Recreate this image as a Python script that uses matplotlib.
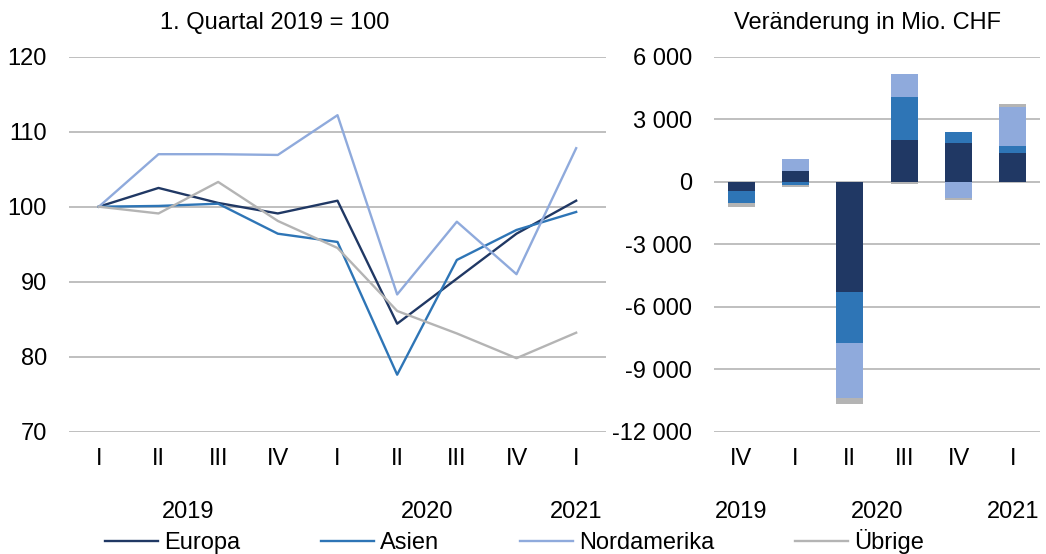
import matplotlib
matplotlib.use("Agg")
import matplotlib.pyplot as plt
import numpy as np
from matplotlib.ticker import FuncFormatter
import matplotlib.transforms as mtransforms

plt.rcParams['font.family'] = ['Liberation Sans', 'DejaVu Sans']

# ---- data: index (1. Quartal 2019 = 100) ----
line_quarters = ["I", "II", "III", "IV", "I", "II", "III", "IV", "I"]
line_years = ["2019", "2019", "2019", "2019", "2020", "2020", "2020", "2020", "2021"]
europa = [100, 102.5, 100.5, 99.1, 100.8, 84.4, 90.4, 96.4, 100.8]
asien = [100, 100.1, 100.4, 96.4, 95.3, 77.6, 92.9, 96.9, 99.3]
nordamerika = [100, 107.0, 107.0, 106.9, 112.2, 88.3, 98.0, 91.0, 107.8]
uebrige = [100, 99.1, 103.3, 98.1, 94.5, 86.1, 83.1, 79.8, 83.2]

# ---- data: change in Mio. CHF ----
bar_quarters = ["IV", "I", "II", "III", "IV", "I"]
bar_years = ["2019", "2020", "2020", "2020", "2020", "2021"]
bar_europa = [-450, 514, -5310, 1987, 1872, 1392]
bar_asien = [-560, -160, -2420, 2064, 528, 336]
bar_nordamerika = [0, 576, -2670, 1120, -800, 1872]
bar_uebrige = [-190, -110, -270, -100, -100, 130]

series_names = ["Europa", "Asien", "Nordamerika", "Übrige"]
colors = ["#203864", "#2E75B6", "#8FAADC", "#B4B4B4"]
grid_color = "#BFBFBF"
FS = 17

W, H = 1046, 554
fig = plt.figure(figsize=(W / 100, H / 100), dpi=100)

def frac_axes(x0, x1, ytop, ybot):
    return fig.add_axes([x0 / W, 1 - ybot / H, (x1 - x0) / W, (ybot - ytop) / H])

ax1 = frac_axes(69, 606, 56.7, 431.7)
ax2 = frac_axes(714, 1040, 56.7, 431.7)

for ax in (ax1, ax2):
    for s in ax.spines.values():
        s.set_visible(False)
    ax.tick_params(axis='both', length=0, labelsize=FS, colors='black')
    ax.tick_params(axis='y', pad=16)
    ax.tick_params(axis='x', pad=12)
    ax.yaxis.grid(True, color=grid_color, linewidth=1.4)
    ax.set_axisbelow(True)

# ---- left: lines ----
x1 = np.arange(len(line_quarters))
for name, vals, c in zip(series_names, [europa, asien, nordamerika, uebrige], colors):
    ax1.plot(x1, vals, color=c, linewidth=1.7, label=name)
ax1.set_xlim(-0.5, len(line_quarters) - 0.5)
ax1.set_ylim(70, 120)
ax1.set_yticks([70, 80, 90, 100, 110, 120])
ax1.set_xticks(x1)
ax1.set_xticklabels(line_quarters)

# ---- right: stacked bars ----
x2 = np.arange(len(bar_quarters))
pos_base = np.zeros(len(x2))
neg_base = np.zeros(len(x2))
for name, vals, c in zip(series_names, [bar_europa, bar_asien, bar_nordamerika, bar_uebrige], colors):
    v = np.array(vals, dtype=float)
    pos = np.where(v > 0, v, 0)
    neg = np.where(v < 0, v, 0)
    ax2.bar(x2, pos, bottom=pos_base, width=0.5, color=c, linewidth=0)
    ax2.bar(x2, neg, bottom=neg_base, width=0.5, color=c, linewidth=0)
    pos_base += pos
    neg_base += neg
ax2.axhline(0, color=grid_color, linewidth=1.4, zorder=0.5)
ax2.set_xlim(-0.5, len(bar_quarters) - 0.5)
ax2.set_ylim(-12000, 6000)
ax2.set_yticks(np.arange(-12000, 6001, 3000))
ax2.yaxis.set_major_formatter(FuncFormatter(lambda v, p: f"{v:,.0f}".replace(",", " ")))
ax2.set_xticks(x2)
ax2.set_xticklabels(bar_quarters)

# ---- year labels (multi-level category axis) ----
def year_labels(ax, years):
    trans = mtransforms.blended_transform_factory(ax.transData, ax.transAxes)
    seen = []
    for y in years:
        if y not in seen:
            seen.append(y)
    for y in seen:
        idx = [i for i, yy in enumerate(years) if yy == y]
        ax.text(np.mean(idx), -0.2133, y, transform=trans, ha='center', va='center', fontsize=FS)

year_labels(ax1, line_years)
year_labels(ax2, bar_years)

# ---- titles ----
fig.text(274.5 / W, 1 - 22.7 / H, "1. Quartal 2019 = 100", ha='center', va='center', fontsize=FS)
fig.text(868 / W, 1 - 22.7 / H, "Veränderung in Mio. CHF", ha='center', va='center', fontsize=FS)

# ---- legend ----
handles, labels = ax1.get_legend_handles_labels()
fig.legend(handles, labels, loc='center', bbox_to_anchor=(514.5 / W, 1 - 541.7 / H),
           ncol=4, frameon=False, fontsize=FS, handlelength=2.25, handletextpad=0.25,
           columnspacing=3.43, borderpad=0, borderaxespad=0)

fig.savefig("out.png", dpi=100)
